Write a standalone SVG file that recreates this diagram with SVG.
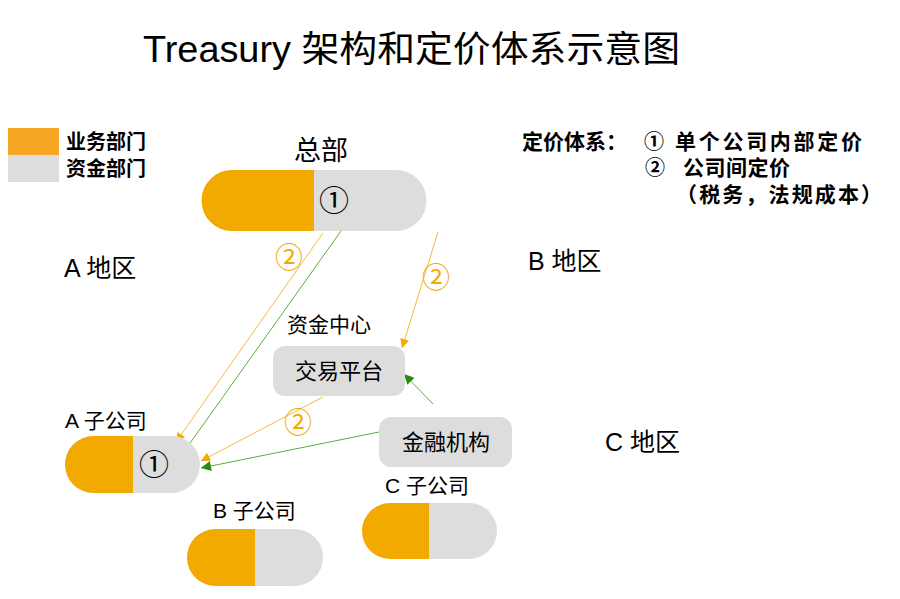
<svg xmlns="http://www.w3.org/2000/svg" width="900" height="599" viewBox="0 0 900 599">
<style>
text{font-family:"Liberation Sans","Noto Sans CJK SC",sans-serif;fill:#000}
.b{font-weight:bold}
.org{fill:#F2A900}
.gry{fill:#DDDDDD}
.lo{stroke:#F5B841;stroke-width:1;fill:none}
.lg{stroke:#5BAE3C;stroke-width:1;fill:none}
.n2{fill:#F2A900;font-size:28px;text-anchor:middle}
.c1{font-size:30px;text-anchor:middle}
</style>
<defs>
<marker id="ao" viewBox="0 0 10 10" refX="10" refY="5" markerWidth="11" markerHeight="9" markerUnits="userSpaceOnUse" orient="auto"><path d="M0,0L10,5L0,10z" fill="#F2A900"/></marker>
<marker id="ag" viewBox="0 0 10 10" refX="10" refY="5" markerWidth="12" markerHeight="10" markerUnits="userSpaceOnUse" orient="auto"><path d="M0,0L10,5L0,10z" fill="#2A8A12"/></marker>
</defs>
<rect width="900" height="599" fill="#fff"/>
<text x="143" y="62" font-size="36" textLength="537" lengthAdjust="spacingAndGlyphs">Treasury 架构和定价体系示意图</text>

<g id="legend">
<rect x="8" y="128" width="51" height="27" fill="#F5A623"/>
<rect x="8" y="155" width="51" height="27" fill="#DDDDDD"/>
<text x="66" y="149" font-size="20" class="b">业务部门</text>
<text x="66" y="176" font-size="20" class="b">资金部门</text>
</g>

<g id="pricing">
<text x="522" y="149" font-size="21" class="b">定价体系：</text>
<text x="654" y="149" font-size="20" class="b" text-anchor="middle">①</text>
<text x="675" y="149" font-size="21" class="b" textLength="187">单个公司内部定价</text>
<text x="655" y="175" font-size="20" class="b" text-anchor="middle">②</text>
<text x="683" y="175" font-size="21" class="b" textLength="107">公司间定价</text>
<text x="676" y="202" font-size="21" class="b" textLength="206">（税务，法规成本）</text>
</g>

<g id="regions">
<text x="64" y="277" font-size="25">A 地区</text>
<text x="528" y="270" font-size="25">B 地区</text>
<text x="605" y="451" font-size="25">C 地区</text>
</g>

<g id="connectors">
<line class="lo" x1="323" y1="233" x2="176" y2="442" marker-end="url(#ao)"/>
<line class="lg" x1="341" y1="231" x2="183" y2="453" marker-end="url(#ag)"/>
<line class="lo" x1="438" y1="232" x2="402" y2="348" marker-end="url(#ao)"/>
<line class="lo" x1="323" y1="397" x2="201" y2="461" marker-end="url(#ao)"/>
<line class="lg" x1="389" y1="430" x2="201" y2="468" marker-end="url(#ag)"/>
<line class="lg" x1="433" y1="404" x2="404" y2="374" marker-end="url(#ag)"/>
<text class="n2" x="289" y="268">②</text>
<text class="n2" x="436" y="288">②</text>
<text class="n2" x="298" y="433">②</text>
</g>

<g id="hq">
<text x="321" y="160" font-size="27" text-anchor="middle">总部</text>
<path class="org" d="M314,170H232A30.5,30.5 0 0 0 232,231H314z"/>
<path class="gry" d="M314,170H396A30.5,30.5 0 0 1 396,231H314z"/>
<text class="c1" x="334" y="211">①</text>
</g>

<g id="fund-center">
<text x="287" y="332" font-size="21">资金中心</text>
</g>

<g id="trading-platform">
<rect x="273" y="346" width="132" height="50" rx="12" class="gry"/>
<text x="339" y="379" font-size="22" text-anchor="middle">交易平台</text>
</g>

<g id="financial-institution">
<rect x="379" y="417" width="133" height="50" rx="12" class="gry"/>
<text x="446" y="450" font-size="22" text-anchor="middle">金融机构</text>
</g>

<g id="sub-a">
<text x="65" y="428" font-size="21">A 子公司</text>
<path class="org" d="M133,436H93.5A28.5,28.5 0 0 0 93.5,493H133z"/>
<path class="gry" d="M133,436H171.5A28.5,28.5 0 0 1 171.5,493H133z"/>
<text class="c1" x="154" y="475">①</text>
</g>

<g id="sub-b">
<text x="213" y="518" font-size="21">B 子公司</text>
<path class="org" d="M255,529H215.5A28.5,28.5 0 0 0 215.5,586H255z"/>
<path class="gry" d="M255,529H294.5A28.5,28.5 0 0 1 294.5,586H255z"/>
</g>

<g id="sub-c">
<text x="385" y="493" font-size="21">C 子公司</text>
<path class="org" d="M429,503H390A28,28 0 0 0 390,559H429z"/>
<path class="gry" d="M429,503H469A28,28 0 0 1 469,559H429z"/>
</g>
</svg>
